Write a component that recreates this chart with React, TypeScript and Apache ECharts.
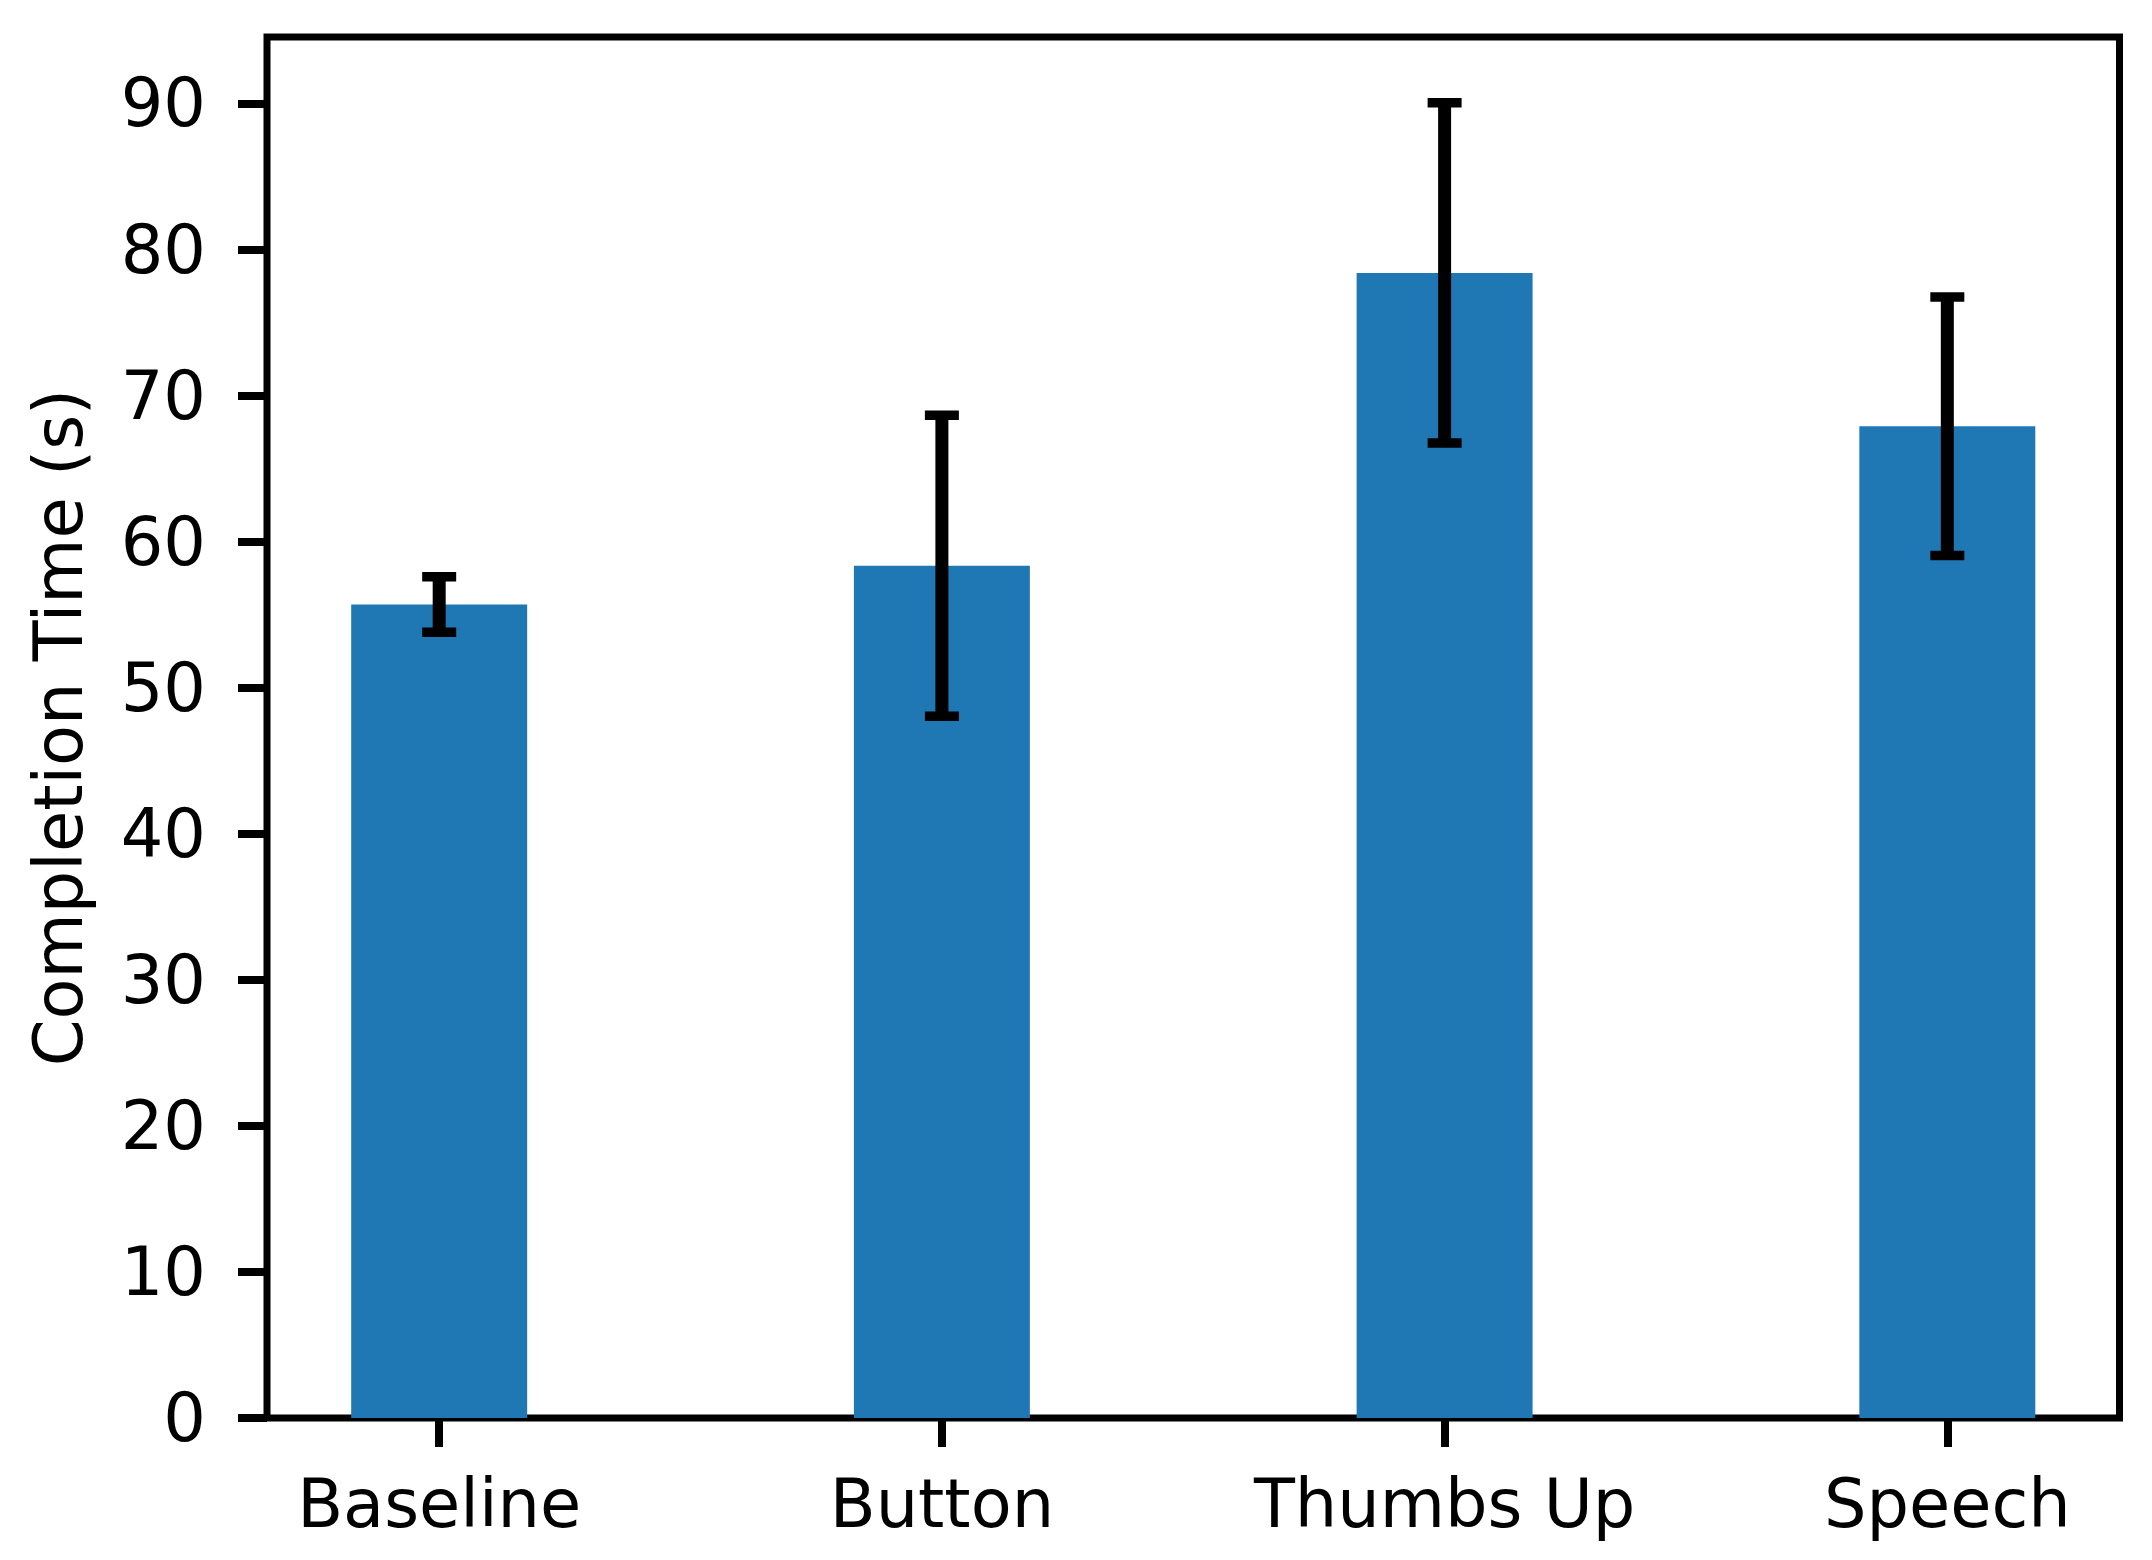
import React, { useEffect, useRef } from "react";
import * as echarts from "echarts";

const categories = ["Baseline", "Button", "Thumbs Up", "Speech"];
const means = [55.7, 58.35, 78.4, 67.9];
const errors = [1.9, 10.3, 11.65, 8.85];
const yTicks = [0, 10, 20, 30, 40, 50, 60, 70, 80, 90];
const xTicks = [0, 1, 2, 3];

const FONT = "DejaVu Sans";
const BAR_COLOR = "#1f77b4";
const BAR_WIDTH = 0.35;

export default function App() {
  const ref = useRef<HTMLDivElement>(null);

  useEffect(() => {
    document.body.style.margin = "0";
    if (!ref.current) return;
    const chart = echarts.init(ref.current, null, { renderer: "svg" });

    const yMax = Math.max(...means.map((m, i) => m + errors[i])) * 1.05;
    const barData = means.map((m, i) => [i, m]);
    const errData = means.map((m, i) => [i, m - errors[i], m + errors[i]]);

    const option: any = {
      animation: false,
      backgroundColor: "#ffffff",
      grid: {
        left: 267,
        right: 32.5,
        top: 37,
        bottom: 142,
        show: true,
        borderColor: "#000",
        borderWidth: 7,
        backgroundColor: "transparent",
        containLabel: false,
      },
      xAxis: {
        type: "value",
        min: -0.3425,
        max: 3.3425,
        axisLine: { show: false, onZero: false },
        splitLine: { show: false },
        axisTick: {
          show: true,
          customValues: xTicks,
          length: 29,
          lineStyle: { color: "#000", width: 8 },
        },
        axisLabel: {
          customValues: xTicks,
          formatter: (v: number) => categories[Math.round(v)],
          fontSize: 67,
          lineHeight: 67,
          fontFamily: FONT,
          color: "#000",
          margin: 52,
        },
      },
      yAxis: {
        type: "value",
        min: 0,
        max: yMax,
        axisLine: { show: false, onZero: false },
        splitLine: { show: false },
        axisTick: {
          show: true,
          customValues: yTicks,
          length: 29,
          lineStyle: { color: "#000", width: 8 },
        },
        axisLabel: {
          customValues: yTicks,
          fontSize: 67,
          lineHeight: 67,
          fontFamily: FONT,
          color: "#000",
          margin: 61,
        },
        name: "Completion Time (s)",
        nameLocation: "middle",
        nameGap: 175,
        nameTextStyle: {
          fontSize: 67,
          lineHeight: 67,
          fontFamily: FONT,
          color: "#000",
        },
      },
      series: [
        {
          type: "custom",
          data: barData,
          z: 2,
          renderItem: (params: any, api: any) => {
            const x = api.value(0);
            const y = api.value(1);
            const p0 = api.coord([x - BAR_WIDTH / 2, 0]);
            const p1 = api.coord([x + BAR_WIDTH / 2, y]);
            return {
              type: "rect",
              shape: {
                x: p0[0],
                y: p1[1],
                width: p1[0] - p0[0],
                height: p0[1] - p1[1],
              },
              style: { fill: BAR_COLOR },
            };
          },
        },
        {
          type: "custom",
          data: errData,
          z: 3,
          renderItem: (params: any, api: any) => {
            const x = api.value(0);
            const lo = api.coord([x, api.value(1)]);
            const hi = api.coord([x, api.value(2)]);
            const capHalf = 17;
            const stroke = { stroke: "#000", lineCap: "butt" };
            return {
              type: "group",
              children: [
                {
                  type: "line",
                  shape: { x1: lo[0], y1: lo[1], x2: hi[0], y2: hi[1] },
                  style: { ...stroke, lineWidth: 13 },
                },
                {
                  type: "line",
                  shape: { x1: hi[0] - capHalf, y1: hi[1], x2: hi[0] + capHalf, y2: hi[1] },
                  style: { ...stroke, lineWidth: 9.5 },
                },
                {
                  type: "line",
                  shape: { x1: lo[0] - capHalf, y1: lo[1], x2: lo[0] + capHalf, y2: lo[1] },
                  style: { ...stroke, lineWidth: 9.5 },
                },
              ],
            };
          },
        },
      ],
    };

    chart.setOption(option);
    return () => chart.dispose();
  }, []);

  return (
    <div
      ref={ref}
      style={{ position: "absolute", left: 0, top: 0, width: 2152, height: 1560 }}
    />
  );
}
